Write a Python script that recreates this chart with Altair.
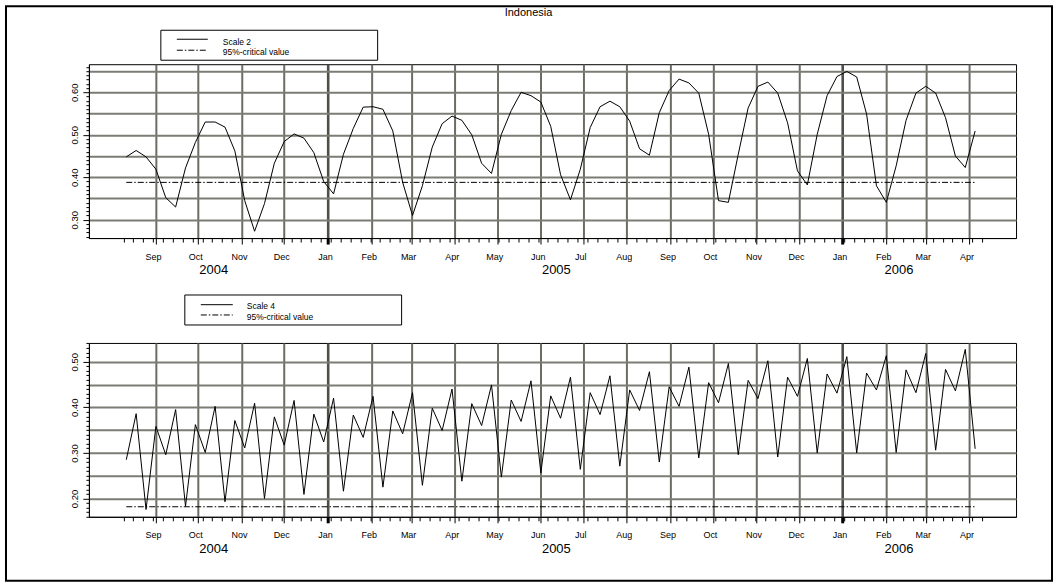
import altair as alt
import pandas as pd

# ---------------- data ----------------
START = "2004-08-11"
N = 87
scale2 = [0.448, 0.463, 0.448, 0.419, 0.352, 0.330, 0.422, 0.482, 0.530, 0.530,
          0.518, 0.462, 0.345, 0.273, 0.338, 0.433, 0.484, 0.502, 0.492, 0.458,
          0.390, 0.361, 0.454, 0.515, 0.565, 0.566, 0.560, 0.509, 0.388,
          0.310, 0.380, 0.471, 0.526, 0.544, 0.534, 0.500, 0.433, 0.409, 0.501,
          0.557, 0.600, 0.592, 0.577, 0.520, 0.406, 0.347, 0.419, 0.517, 0.566,
          0.579, 0.566, 0.532, 0.467, 0.452, 0.552, 0.604, 0.631, 0.622, 0.598,
          0.501, 0.345, 0.341,
          0.454, 0.563, 0.614, 0.624, 0.598, 0.528, 0.415, 0.382, 0.501, 0.592,
          0.637, 0.649, 0.636, 0.549, 0.380, 0.341, 0.427, 0.534, 0.598, 0.614,
          0.598, 0.540, 0.450, 0.423, 0.509]
scale4 = [0.285, 0.386, 0.176, 0.358, 0.296, 0.395, 0.183, 0.362, 0.301, 0.402,
          0.193, 0.371, 0.311, 0.409, 0.200, 0.379, 0.317, 0.415, 0.209, 0.385,
          0.324, 0.420, 0.216, 0.383, 0.334, 0.424, 0.225, 0.392, 0.342,
          0.432, 0.229, 0.398, 0.349, 0.440, 0.238, 0.408, 0.360, 0.449, 0.247,
          0.416, 0.369, 0.458, 0.256, 0.425, 0.376, 0.466, 0.264, 0.432, 0.384,
          0.469, 0.271, 0.438, 0.393, 0.478, 0.280, 0.445, 0.402, 0.488, 0.289,
          0.454, 0.410, 0.496,
          0.296, 0.459, 0.419, 0.502, 0.291, 0.466, 0.424, 0.507, 0.300, 0.473,
          0.431, 0.511, 0.300, 0.475, 0.438, 0.513, 0.301, 0.482, 0.432, 0.518,
          0.306, 0.483, 0.436, 0.527, 0.309]
crit2 = 0.388
crit4 = 0.182
years = ["2004", "2005", "2006"]
year_dates = ["2004-10-12", "2005-06-12", "2006-02-10"]
legend2 = ["Scale 2", "95%-critical value"]
legend4 = ["Scale 4", "95%-critical value"]
title_text = "Indonesia"

ydom2 = [0.257, 0.666]
ydom4 = [0.160, 0.541]
ytick2 = [round(0.26 + 0.01 * i, 2) for i in range(41)]
ytick4 = [round(0.16 + 0.01 * i, 2) for i in range(39)]

dates = pd.date_range(START, periods=N, freq="7D")
month_starts = pd.date_range("2004-09-01", "2006-04-01", freq="MS")
mondays = pd.date_range("2004-08-09", "2006-04-10", freq="7D")

FONT = "Liberation Sans"
W, H = 928, 174

xdom = [alt.DateTime(year=2004, month=7, date=15, hours=12),
        alt.DateTime(year=2006, month=5, date=4)]
xvals = [alt.DateTime(year=d.year, month=d.month, date=d.day) for d in list(month_starts) + list(mondays)]

xaxis = alt.Axis(
    values=xvals, title=None, grid=True,
    gridOpacity={"condition": {"test": "date(datum.value)==1", "value": 1}, "value": 0},
    gridColor={"condition": {"test": "month(datum.value)==0", "value": "#4f4f49"}, "value": "#6c6c64"},
    gridWidth={"condition": {"test": "month(datum.value)==0", "value": 2.6}, "value": 2},
    tickSize={"condition": {"test": "date(datum.value)==1", "value": 6}, "value": 4},
    tickWidth={"condition": {"test": "date(datum.value)==1 && month(datum.value)==0", "value": 3}, "value": 1},
    tickColor="black", domainColor="black", domainWidth=1,
    labelExpr="date(datum.value)==1 ? timeFormat(datum.value, '%b') : ''",
    labelFont=FONT, labelFontSize=9, labelColor="black", labelPadding=8, labelOffset=-3,
    labelOverlap=False, labelFlush=False, labelBound=False,
)


def yaxis(vals):
    return alt.Axis(
        values=vals, title=None, grid=True,
        gridOpacity={"condition": {"test": "abs(round(datum.value*100)) % 5 == 0", "value": 1}, "value": 0},
        gridColor="#7c7c74", gridWidth=2,
        tickSize={"condition": {"test": "abs(round(datum.value*100)) % 10 == 0", "value": 6}, "value": 3},
        tickColor="black", domainColor="black",
        labelExpr="abs(round(datum.value*100)) % 10 == 0 ? format(datum.value, '.2f') : ''",
        labelAngle=270, labelAlign="center", labelBaseline="bottom",
        labelFont=FONT, labelFontSize=9.5, labelColor="black", labelPadding=3,
        labelOverlap=False, labelFlush=False,
    )


def panel(values, crit, ydom, yticks, legend, leg, extra=None):
    df = pd.DataFrame({"date": dates, "value": values})
    X = alt.X("date:T", scale=alt.Scale(domain=xdom), axis=xaxis)
    Y = alt.Y("value:Q", scale=alt.Scale(domain=ydom, nice=False, zero=False), axis=yaxis(yticks))
    line = alt.Chart(df).mark_line(color="black", strokeWidth=1).encode(x=X, y=Y)
    cdf = pd.DataFrame({"date": [dates[0], dates[-1]], "value": [crit, crit]})
    critl = alt.Chart(cdf).mark_line(color="black", strokeWidth=1, strokeDash=[6, 2, 1.5, 2]).encode(x=X, y=Y)
    ydf = pd.DataFrame({"date": pd.to_datetime(year_dates), "label": years})
    ytext = alt.Chart(ydf).mark_text(font=FONT, fontSize=13, color="black", baseline="middle").encode(
        x=X, y=alt.value(H + 32), text="label:N")
    one = pd.DataFrame({"k": [0]})
    bx0, bx1, by0, by1, lx0, lx1, ly1, ly2, tx, ty1, ty2 = leg
    box = alt.Chart(one).mark_rect(fill="white", stroke="black", strokeWidth=1).encode(
        x=alt.value(bx0), x2=alt.value(bx1), y=alt.value(by0), y2=alt.value(by1))
    s1 = alt.Chart(one).mark_rule(color="black", strokeWidth=1).encode(
        x=alt.value(lx0), x2=alt.value(lx1), y=alt.value(ly1))
    s2 = alt.Chart(one).mark_rule(color="black", strokeWidth=1, strokeDash=[6, 2, 1.5, 2]).encode(
        x=alt.value(lx0), x2=alt.value(lx1), y=alt.value(ly2))
    t1 = alt.Chart(pd.DataFrame({"t": [legend[0]]})).mark_text(
        font=FONT, fontSize=8.5, align="left", baseline="middle", color="black").encode(
        x=alt.value(tx), y=alt.value(ty1), text="t:N")
    t2 = alt.Chart(pd.DataFrame({"t": [legend[1]]})).mark_text(
        font=FONT, fontSize=8.5, align="left", baseline="middle", color="black").encode(
        x=alt.value(tx), y=alt.value(ty2), text="t:N")
    layers = [line, critl, ytext, box, s1, s2, t1, t2]
    if extra:
        layers += extra
    return alt.layer(*layers).properties(width=W, height=H)


one = pd.DataFrame({"k": [0]})
title = alt.Chart(pd.DataFrame({"t": [title_text]})).mark_text(
    font=FONT, fontSize=11, color="black", baseline="middle").encode(
    x=alt.value(440), y=alt.value(-51), text="t:N")
border = alt.Chart(one).mark_rect(fillOpacity=0, stroke="black", strokeWidth=2).encode(
    x=alt.value(-83), x2=alt.value(964), y=alt.value(-58), y2=alt.value(517))

top = panel(scale2, crit2, ydom2, ytick2, legend2,
            (72, 289, -34, -4, 88, 119, -25, -14, 134, -22.7, -12.3), extra=[title, border])
bottom = panel(scale4, crit4, ydom4, ytick4, legend4,
               (96, 313, -48, -18, 112, 144, -38.3, -28, 158, -36.6, -26.3))

chart = alt.vconcat(top, bottom, spacing=105, bounds="flush").properties(
    padding=4, background="white"
).configure_view(stroke="black", strokeWidth=1)

chart.save("out.html", embed_options={"renderer": "svg", "actions": False})
